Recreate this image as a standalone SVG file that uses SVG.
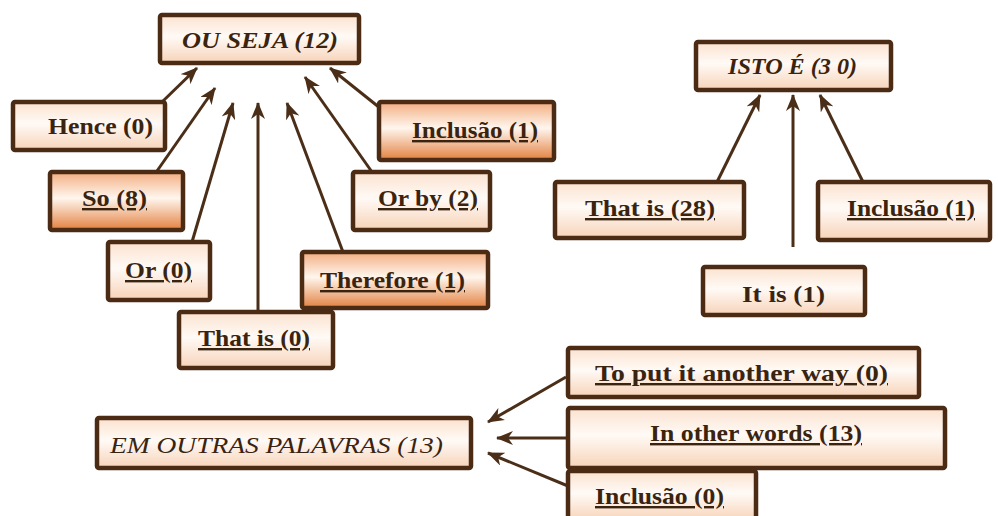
<svg xmlns="http://www.w3.org/2000/svg" width="998" height="516" viewBox="0 0 998 516">
<defs>
<linearGradient id="gw" x1="0" y1="0" x2="0" y2="1">
<stop offset="0" stop-color="#fbe2cf"/>
<stop offset="0.45" stop-color="#fffaf6"/>
<stop offset="1" stop-color="#f7d3b8"/>
</linearGradient>
<linearGradient id="go" x1="0" y1="0" x2="0" y2="1">
<stop offset="0" stop-color="#f2ad80"/>
<stop offset="0.45" stop-color="#fff6ee"/>
<stop offset="1" stop-color="#e3803f"/>
</linearGradient>
<marker id="ah" markerUnits="userSpaceOnUse" markerWidth="18" markerHeight="14" refX="16" refY="7" orient="auto">
<path d="M0,0 L17,7 L0,14 L5,7 z" fill="#4b2e18"/>
</marker>
<style>
.bw{fill:url(#gw);stroke:#4b2b14;stroke-width:4.5}
.bo{fill:url(#go);stroke:#4b2b14;stroke-width:4.5}
text{fill:#3a2410}
.u{text-decoration:underline}
.c{stroke:#4b2e18;stroke-width:3;fill:none;marker-end:url(#ah)}
</style>
</defs>
<rect width="998" height="516" fill="#ffffff"/>
<g id="connectors">
<line class="c" x1="162" y1="102" x2="197" y2="68"/>
<line class="c" x1="157" y1="171" x2="215" y2="88"/>
<line class="c" x1="192" y1="242" x2="233" y2="103"/>
<line class="c" x1="258" y1="312" x2="258" y2="103"/>
<line class="c" x1="343" y1="252" x2="287" y2="103"/>
<line class="c" x1="372" y1="172" x2="305" y2="77"/>
<line class="c" x1="380" y1="108" x2="330" y2="68"/>
<line class="c" x1="717" y1="182" x2="760" y2="95"/>
<line class="c" x1="793" y1="247" x2="793" y2="95"/>
<line class="c" x1="863" y1="182" x2="820" y2="95"/>
<line class="c" x1="566" y1="377" x2="488" y2="422"/>
<line class="c" x1="567" y1="438" x2="497" y2="438"/>
<line class="c" x1="568" y1="486" x2="488" y2="453"/>
</g>
<g font-family="Liberation Serif, Times New Roman, serif" font-weight="bold" font-size="24">
<g id="ou-seja">
<rect class="bw" x="160" y="15" width="199" height="48" rx="2"/>
<text font-style="italic" x="182" y="48" textLength="156" lengthAdjust="spacingAndGlyphs">OU  SEJA (12)</text>
</g>
<g id="hence">
<rect class="bw" x="13" y="102" width="152" height="48" rx="2"/>
<text x="48" y="134" textLength="105" lengthAdjust="spacingAndGlyphs">Hence (0)</text>
</g>
<g id="so">
<rect class="bo" x="50" y="172" width="133" height="58" rx="2"/>
<text class="u" x="82" y="206" textLength="65" lengthAdjust="spacingAndGlyphs">So (8)</text>
</g>
<g id="or">
<rect class="bw" x="108" y="242" width="102" height="58" rx="2"/>
<text class="u" x="125" y="278" textLength="67" lengthAdjust="spacingAndGlyphs">Or (0)</text>
</g>
<g id="that-is-0">
<rect class="bw" x="179" y="312" width="154" height="56" rx="2"/>
<text class="u" x="198" y="346" textLength="112" lengthAdjust="spacingAndGlyphs">That is (0)</text>
</g>
<g id="therefore">
<rect class="bo" x="302" y="252" width="186" height="56" rx="2"/>
<text class="u" x="320" y="288" textLength="145" lengthAdjust="spacingAndGlyphs">Therefore (1)</text>
</g>
<g id="or-by">
<rect class="bw" x="353" y="172" width="137" height="58" rx="2"/>
<text class="u" x="378" y="206" textLength="100" lengthAdjust="spacingAndGlyphs">Or by (2)</text>
</g>
<g id="inclusao-1a">
<rect class="bo" x="379" y="102" width="175" height="58" rx="2"/>
<text class="u" x="412" y="138" textLength="126" lengthAdjust="spacingAndGlyphs">Inclusão (1)</text>
</g>
<g id="isto-e">
<rect class="bw" x="696" y="42" width="195" height="48" rx="2"/>
<text font-style="italic" x="728" y="74" textLength="129" lengthAdjust="spacingAndGlyphs">ISTO É (3 0)</text>
</g>
<g id="that-is-28">
<rect class="bw" x="555" y="182" width="189" height="56" rx="2"/>
<text class="u" x="585" y="216" textLength="130" lengthAdjust="spacingAndGlyphs">That  is (28)</text>
</g>
<g id="inclusao-1b">
<rect class="bw" x="818" y="182" width="172" height="58" rx="2"/>
<text class="u" x="847" y="216" textLength="128" lengthAdjust="spacingAndGlyphs">Inclusão (1)</text>
</g>
<g id="it-is">
<rect class="bw" x="703" y="267" width="162" height="48" rx="2"/>
<text x="742" y="302" textLength="83" lengthAdjust="spacingAndGlyphs">It  is (1)</text>
</g>
<g id="em-outras-palavras">
<rect class="bw" x="97" y="418" width="374" height="50" rx="2"/>
<text font-style="italic" font-weight="normal" x="110" y="453" textLength="333" lengthAdjust="spacingAndGlyphs">EM OUTRAS PALAVRAS (13)</text>
</g>
<g id="to-put">
<rect class="bw" x="568" y="348" width="351" height="49" rx="2"/>
<text class="u" x="595" y="381" textLength="293" lengthAdjust="spacingAndGlyphs">To put  it  another  way (0)</text>
</g>
<g id="in-other-words">
<rect class="bw" x="568" y="408" width="377" height="60" rx="2"/>
<text class="u" x="650" y="441" textLength="212" lengthAdjust="spacingAndGlyphs">In other words (13)</text>
</g>
<g id="inclusao-0">
<rect class="bw" x="568" y="471" width="188" height="50" rx="2"/>
<text class="u" x="595" y="504" textLength="129" lengthAdjust="spacingAndGlyphs">Inclusão (0)</text>
</g>
</g>
</svg>
